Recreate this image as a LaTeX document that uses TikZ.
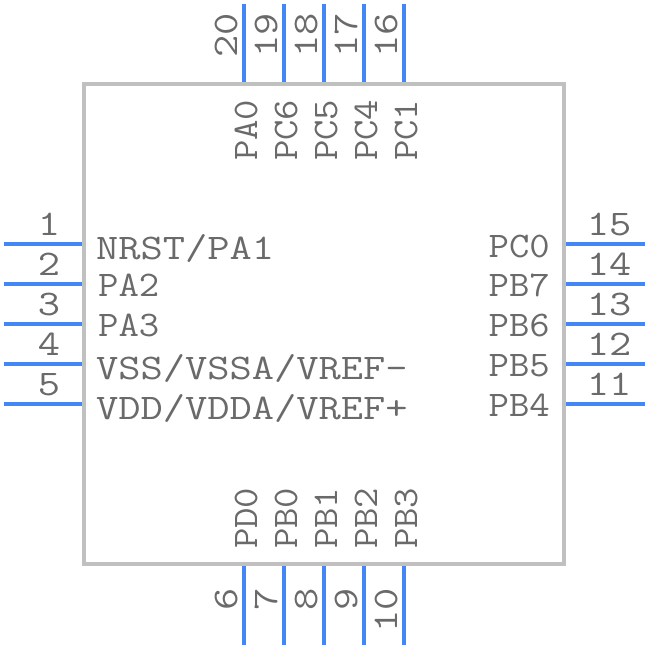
\documentclass[tikz,border=0pt]{standalone}
\usepackage{fontspec}
\setmonofont[FakeStretch=1.2]{Latin Modern Mono}
\newfontfamily\shortmono[FakeStretch=1.1]{Latin Modern Mono}
\usepackage{xcolor}
\definecolor{pinblue}{HTML}{4287F5}
\definecolor{bodygray}{HTML}{C0C0C0}
\definecolor{textgray}{HTML}{6A6A6A}
\tikzset{
	pin/.style={draw=pinblue,line width=4pt},
	body/.style={draw=bodygray,line width=4pt},
	lab/.style={inner sep=0pt,text=textgray,font=\fontsize{36}{36}\selectfont\ttfamily},
	shortlab/.style={lab,font=\fontsize{36}{36}\selectfont\shortmono},
}
\begin{document}
\begin{tikzpicture}[x=1pt,y=-1pt]
		\useasboundingbox (0,0) rectangle (648,648);
		\draw[body] (84,84) rectangle (564,564);
		% left and right side
		\foreach \y/\l/\r in {244/1/15,284/2/14,324/3/13,364/4/12,404/5/11}
		{
		\draw[pin] (4,\y) -- (82,\y);
		\draw[pin] (566,\y) -- (645,\y);
		\node[lab,anchor=base] (num\l) at (49,\y-9) {\l};
		\node[lab,anchor=base] (num\r) at (609,\y-9) {\r};
		}
		% top and bottom side
		\foreach \x/\t/\b in {244/20/6,284/19/7,324/18/8,364/17/9,404/16/10}
		{
		\draw[pin] (\x,4) -- (\x,82);
		\draw[pin] (\x,566) -- (\x,645);
		\node[lab,rotate=90,anchor=base west] (num\t) at (\x-7,58) {\t};
		\node[lab,rotate=90,anchor=base east] (num\b) at (\x-7,588) {\b};
		}
		% names inside the body
		\foreach \y/\s/\n in {259/NRST\slash PA1/nrst,379/VSS\slash VSSA\slash VREF-/vss,419/VDD\slash VDDA\slash VREF+/vdd}
		\node[lab,anchor=base west] (\n) at (96,\y) {\s};
		\foreach \y/\s in {296/PA2,336/PA3}
		\node[shortlab,anchor=base west] (\s) at (98,\y) {\s};
		\foreach \y/\s in {257/PC0,296/PB7,336/PB6,376/PB5,416/PB4}
		\node[shortlab,anchor=base east] (\s) at (550,\y) {\s};
		\foreach \x/\s in {257/PA0,297/PC6,337/PC5,377/PC4,417/PC1}
		\node[shortlab,rotate=90,anchor=base west] (\s) at (\x,161) {\s};
		\foreach \x/\s in {257/PD0,297/PB0,337/PB1,377/PB2,417/PB3}
		\node[shortlab,rotate=90,anchor=base west] (\s) at (\x,549) {\s};
	\end{tikzpicture}
\end{document}
